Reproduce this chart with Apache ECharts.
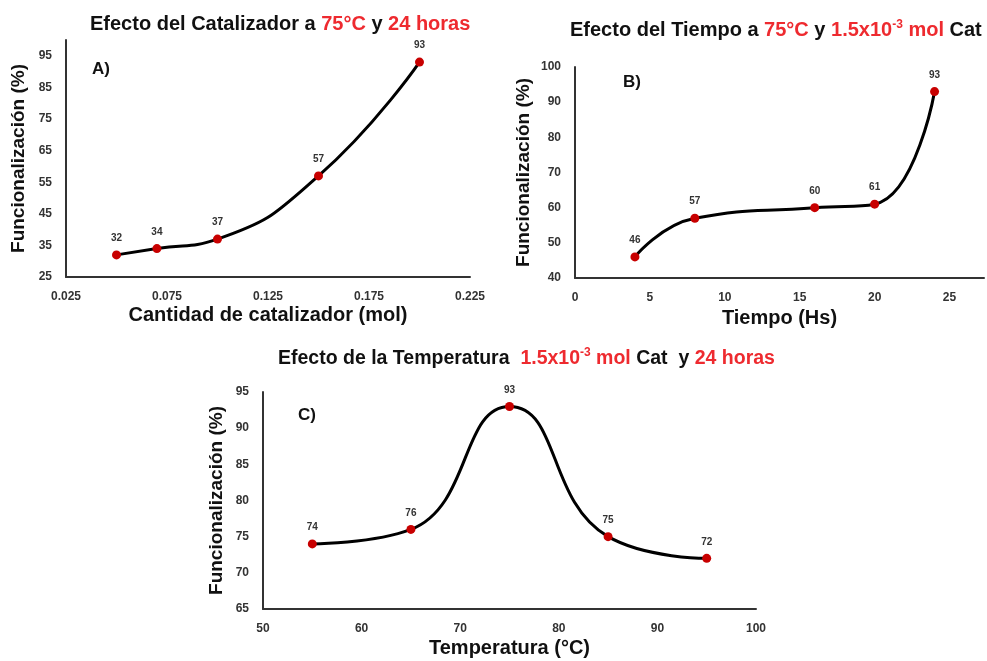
<!DOCTYPE html>
<html>
<head>
<meta charset="utf-8">
<script src="https://cdn.jsdelivr.net/npm/echarts@6/dist/echarts.min.js"></script>
<style>
  html, body { margin: 0; padding: 0; background: #fff; }
  #main { width: 987px; height: 661px; }
</style>
</head>
<body>
<div id="main"></div>
<script>
// datos
const catX = [0.05, 0.07, 0.1, 0.15, 0.2];
const catY = [32, 34, 37, 57, 93];
const timeX = [4, 8, 16, 20, 24];
const timeY = [46, 57, 60, 61, 93];
const tempX = [55, 65, 75, 85, 95];
const tempY = [74, 76, 93, 75, 72];

const catXTicks = ['0.025', '0.075', '0.125', '0.175', '0.225'];
const catYTicks = [25, 35, 45, 55, 65, 75, 85, 95];
const timeXTicks = [0, 5, 10, 15, 20, 25];
const timeYTicks = [40, 50, 60, 70, 80, 90, 100];
const tempXTicks = [50, 60, 70, 80, 90, 100];
const tempYTicks = [65, 70, 75, 80, 85, 90, 95];

const FONT = '"Liberation Sans", Arial, sans-serif';
const RED = '#ee2a2f';

const chart = echarts.init(document.getElementById('main'), null, { renderer: 'canvas' });

function titleRich(size) {
  return {
    b: { fontFamily: FONT, fontSize: size, fontWeight: 'bold', color: '#111' },
    r: { fontFamily: FONT, fontSize: size, fontWeight: 'bold', color: RED },
    s: { fontFamily: FONT, fontSize: 12, fontWeight: 'bold', color: RED, verticalAlign: 'top', padding: [0, 0, 11, 0] }
  };
}

function tickFmt(list, digits) {
  return function (v) {
    const s = digits ? v.toFixed(digits) : String(Math.round(v * 1000) / 1000);
    if (digits) return list.indexOf(s) >= 0 ? s : '';
    return list.indexOf(Number(s)) >= 0 ? s : '';
  };
}

function xAxis(idx, min, max, interval, fmt, name, gap) {
  return {
    type: 'value', gridIndex: idx, min: min, max: max, interval: interval,
    name: name, nameLocation: 'middle', nameGap: gap,
    nameTextStyle: { fontFamily: FONT, fontSize: 20, fontWeight: 'bold', color: '#111' },
    axisLine: { show: true, onZero: false, lineStyle: { color: '#333', width: 2 } },
    axisTick: { show: false },
    splitLine: { show: false },
    axisLabel: { formatter: fmt, fontFamily: FONT, fontSize: 12, fontWeight: 'bold', color: '#333', margin: 14, hideOverlap: false }
  };
}

function yAxis(idx, min, max, interval, fmt, gap) {
  return {
    type: 'value', gridIndex: idx, min: min, max: max, interval: interval,
    name: 'Funcionalización (%)', nameLocation: 'middle', nameGap: gap,
    nameTextStyle: { fontFamily: FONT, fontSize: 19, fontWeight: 'bold', color: '#111' },
    axisLine: { show: true, onZero: false, lineStyle: { color: '#333', width: 2 } },
    axisTick: { show: false },
    splitLine: { show: false },
    axisLabel: { formatter: fmt, fontFamily: FONT, fontSize: 12, fontWeight: 'bold', color: '#333', margin: 14, hideOverlap: false }
  };
}

function serie(idx, xs, ys) {
  return {
    type: 'line', xAxisIndex: idx, yAxisIndex: idx,
    data: xs.map((x, i) => [x, ys[i]]),
    smooth: 0.5,
    symbol: 'circle', symbolSize: 9,
    itemStyle: { color: '#c80000' },
    lineStyle: { color: '#000', width: 3 },
    label: { show: true, position: 'top', distance: 7, fontFamily: FONT, fontSize: 10, fontWeight: 'bold', color: '#333' }
  };
}

chart.setOption({
  animation: false,
  title: [
    { text: '{b|Efecto del Catalizador a }{r|75°C}{b| y }{r|24 horas}', left: 90, top: 14, padding: 0, textStyle: { rich: titleRich(20) } },
    { text: '{b|Efecto del Tiempo a }{r|75°C}{b| y }{r|1.5x10}{s|-3}{r| mol}{b| Cat}', left: 570, top: 19, padding: 0, textStyle: { rich: titleRich(20) } },
    { text: '{b|Efecto de la Temperatura  }{r|1.5x10}{s|-3}{r| mol}{b| Cat  y }{r|24 horas}', left: 278, top: 347, padding: 0, textStyle: { rich: titleRich(19.5) } }
  ],
  grid: [
    { left: 66, top: 40, width: 404, height: 237 },
    { left: 575, top: 67, width: 412, height: 211 },
    { left: 263, top: 392, width: 493, height: 217 }
  ],
  xAxis: [
    xAxis(0, 0.025, 0.225, 0.025, tickFmt(catXTicks, 3), 'Cantidad de catalizador (mol)', 28),
    xAxis(1, 0, 27.3, 5, tickFmt(timeXTicks), 'Tiempo (Hs)', 30),
    xAxis(2, 50, 100, 10, tickFmt(tempXTicks), 'Temperatura (°C)', 29)
  ],
  yAxis: [
    yAxis(0, 25, 100, 5, tickFmt(catYTicks), 38),
    yAxis(1, 40, 100, 10, tickFmt(timeYTicks), 42),
    yAxis(2, 65, 95, 5, tickFmt(tempYTicks), 37)
  ],
  series: [
    serie(0, catX, catY),
    serie(1, timeX, timeY),
    serie(2, tempX, tempY)
  ],
  graphic: [
    { type: 'text', left: 92, top: 61, style: { text: 'A)', font: 'bold 17px ' + FONT, fill: '#111' } },
    { type: 'text', left: 623, top: 74, style: { text: 'B)', font: 'bold 17px ' + FONT, fill: '#111' } },
    { type: 'text', left: 298, top: 407, style: { text: 'C)', font: 'bold 17px ' + FONT, fill: '#111' } }
  ]
});
</script>
</body>
</html>
